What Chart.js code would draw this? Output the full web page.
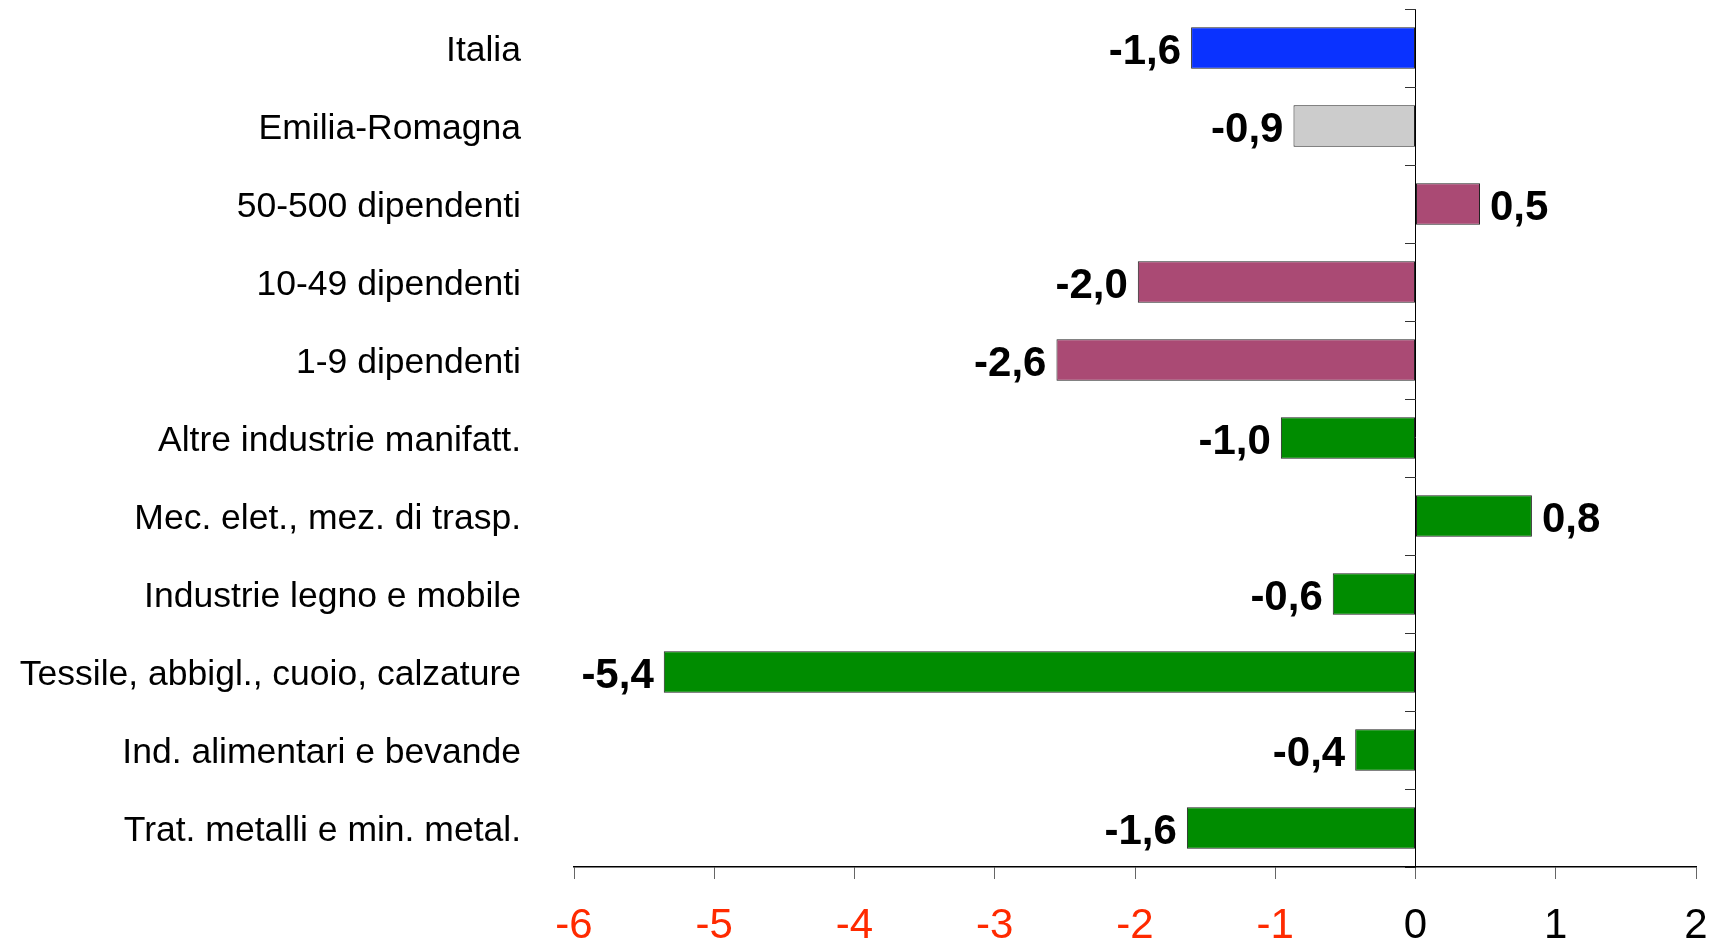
<!DOCTYPE html>
<html>
<head>
<meta charset="utf-8">
<script src="https://cdn.jsdelivr.net/npm/chart.js@4.4.0/dist/chart.umd.min.js"></script>
<style>
  html, body { margin: 0; padding: 0; background: #fff; }
</style>
</head>
<body>
<canvas id="chart" width="1710" height="943"></canvas>
<script>
// categories, top to bottom
const categories = [
  'Italia',
  'Emilia-Romagna',
  '50-500 dipendenti',
  '10-49 dipendenti',
  '1-9 dipendenti',
  'Altre industrie manifatt.',
  'Mec. elet., mez. di trasp.',
  'Industrie legno e mobile',
  'Tessile, abbigl., cuoio, calzature',
  'Ind. alimentari e bevande',
  'Trat. metalli e min. metal.'
];
const values = [-1.60, -0.87, 0.46, -1.98, -2.56, -0.96, 0.83, -0.59, -5.36, -0.43, -1.63];
const groups = ['italia', 'regione', 'classe', 'classe', 'classe',
                'settore', 'settore', 'settore', 'settore', 'settore', 'settore'];
const xTicks = [-6, -5, -4, -3, -2, -1, 0, 1, 2];

const groupColors = {
  italia: '#0a32ff',
  regione: '#cccccc',
  classe: '#aa4a74',
  settore: '#008c00'
};

// numbers next to the bars, italian decimal comma
const valueLabels = {
  id: 'valueLabels',
  afterDatasetsDraw(chart) {
    const ctx = chart.ctx;
    const meta = chart.getDatasetMeta(0);
    ctx.save();
    ctx.font = 'bold 42px "Liberation Sans", Arial, sans-serif';
    ctx.fillStyle = '#000';
    ctx.textBaseline = 'middle';
    meta.data.forEach((bar, i) => {
      const v = values[i];
      const neg = v < 0;
      ctx.textAlign = neg ? 'right' : 'left';
      ctx.fillText(v.toFixed(1).replace('.', ','), bar.x + (neg ? -10 : 10), bar.y + 4);
    });
    ctx.restore();
  }
};

const ctx = document.getElementById('chart').getContext('2d');
new Chart(ctx, {
  type: 'bar',
  data: {
    labels: categories,
    datasets: [{
      data: values,
      backgroundColor: groups.map(g => groupColors[g]),
      borderColor: '#222',
      borderWidth: 1,
      borderSkipped: false,
      categoryPercentage: 1,
      barPercentage: 0.53
    }]
  },
  options: {
    indexAxis: 'y',
    responsive: false,
    animation: false,
    layout: { padding: { top: 9, right: 14, left: 0, bottom: 0 } },
    plugins: { legend: { display: false }, tooltip: { enabled: false } },
    scales: {
      x: {
        type: 'linear',
        min: xTicks[0],
        max: xTicks[xTicks.length - 1],
        afterBuildTicks: s => { s.ticks = xTicks.map(v => ({ value: v })); },
        afterFit: s => { s.height = 76; s.paddingLeft = 0; s.paddingRight = 0; },
        ticks: {
          font: { family: '"Liberation Sans", Arial, sans-serif', size: 42 },
          color: c => c.tick.value < 0 ? '#ff2a00' : '#000',
          padding: 22,
          callback: v => String(v)
        },
        grid: {
          color: c => (c.tick && c.tick.value === 0) ? '#000' : 'rgba(0,0,0,0)',
          tickColor: '#666',
          tickLength: 12,
          lineWidth: 1
        },
        border: { color: '#000', width: 1.5 }
      },
      y: {
        position: 'left',
        afterFit: s => { s.width = 574; s.paddingTop = 0; s.paddingBottom = 0; },
        grid: { display: false, drawTicks: false },
        border: { display: false },
        ticks: {
          font: { family: '"Liberation Sans", Arial, sans-serif', size: 35.5 },
          color: '#000',
          padding: 53,
          labelOffset: 3
        }
      },
      y2: {
        type: 'category',
        position: { x: 0 },
        offset: true,
        grid: { drawOnChartArea: false, offset: true, tickLength: 11, tickColor: '#333' },
        ticks: { display: false },
        border: { display: false }
      }
    }
  },
  plugins: [valueLabels]
});
</script>
</body>
</html>
